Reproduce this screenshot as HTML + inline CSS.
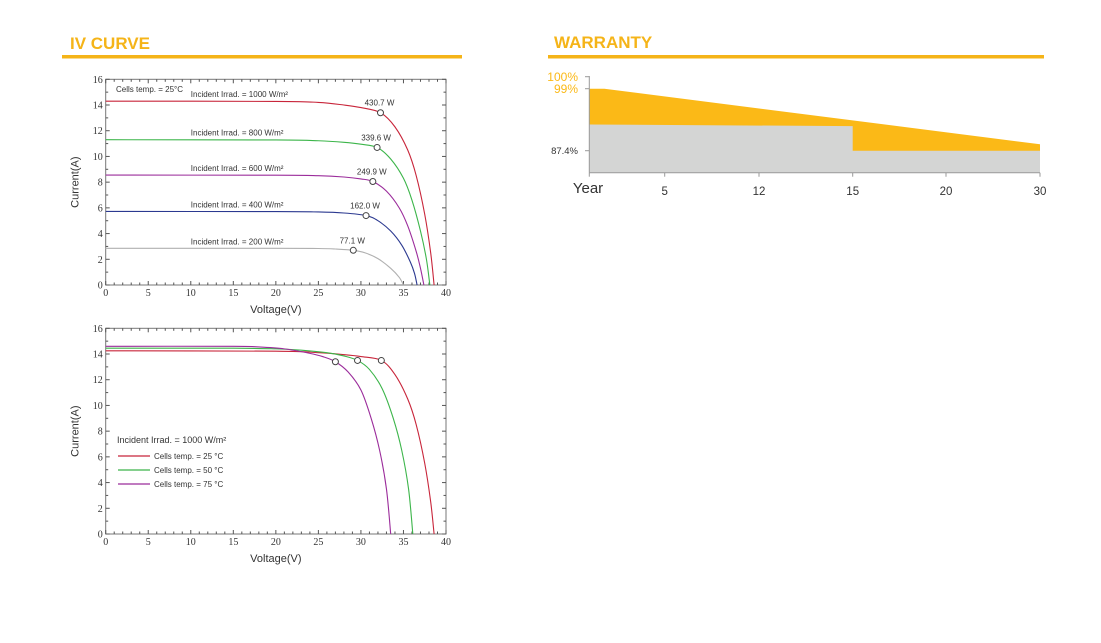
<!DOCTYPE html>
<html><head><meta charset="utf-8"><style>
html,body{margin:0;padding:0;background:#fff;}
body{width:1101px;height:643px;overflow:hidden;position:relative;font-family:"Liberation Sans",sans-serif;}
svg{position:absolute;left:0;top:0;}
</style></head><body>
<svg id="s" width="1101" height="643" viewBox="0 0 1101 643">
<text x="70" y="49" font-size="17" font-weight="bold" fill="#f5b418">IV CURVE</text>
<rect x="62" y="55" width="400" height="3.5" fill="#f5b418"/>
<text x="554" y="48" font-size="17" font-weight="bold" fill="#f5b418">WARRANTY</text>
<rect x="548" y="55" width="496" height="3.5" fill="#f5b418"/>
</svg>
<script>
// ---- IV chart 1 data (irradiance) ----
const irrLabels=["Incident Irrad. = 1000 W/m²","Incident Irrad. = 800 W/m²","Incident Irrad. = 600 W/m²","Incident Irrad. = 400 W/m²","Incident Irrad. = 200 W/m²"];
const irrPower=["430.7 W","339.6 W","249.9 W","162.0 W","77.1 W"];
const irrV1000=[0,20,25,28,30,32.3,34,35.5,36.5,37.5,38.2,38.6];
const irrI1000=[14.3,14.28,14.2,14.0,13.8,13.4,12.3,10.5,8.5,5.5,2.5,0];
const irrV800=[0,20,25,28,30,31.9,33.5,35,36,37,37.7,38.1];
const irrI800=[11.3,11.28,11.22,11.1,10.95,10.7,9.8,8.3,6.6,4.2,2.0,0];
const irrV600=[0,20,25,28,30,31.4,33,34.5,35.5,36.5,37.0,37.4];
const irrI600=[8.55,8.54,8.5,8.4,8.25,8.05,7.3,6.0,4.6,2.6,1.3,0];
const irrV400=[0,20,25,28,30.6,32,33.5,34.8,35.8,36.3,36.6];
const irrI400=[5.72,5.71,5.68,5.6,5.4,5.0,4.2,3.1,1.8,0.9,0];
const irrV200=[0,20,25,27,29.1,30.5,32,33.5,34.5,35];
const irrI200=[2.85,2.85,2.84,2.8,2.7,2.5,2.05,1.3,0.6,0];
const irrMppV=[32.3,31.9,31.4,30.6,29.1];
const irrMppI=[13.4,10.7,8.05,5.4,2.7];
// ---- IV chart 2 data (temperature) ----
const tempLabels=["Cells temp. = 25 °C","Cells temp. = 50 °C","Cells temp. = 75 °C"];
const tV25=[0,20,25,28,30,32.4,34,35.5,36.5,37.5,38.2,38.6];
const tI25=[14.25,14.22,14.1,13.95,13.8,13.5,12.4,10.5,8.5,5.5,2.5,0];
const tV50=[0,15,20,23,26,28,29.6,31,32.5,33.8,34.8,35.6,36.1];
const tI50=[14.45,14.45,14.4,14.3,14.1,13.85,13.5,12.8,11.3,9.0,6.5,3.5,0];
const tV75=[0,15,18,21,24,25.5,27,28.5,30,31.2,32.2,33,33.5];
const tI75=[14.6,14.6,14.55,14.4,14.05,13.8,13.4,12.6,11.2,9.0,6.5,3.5,0];
const tMppV=[32.4,29.6,27];
const tMppI=[13.5,13.5,13.4];
const xTicks=[0,5,10,15,20,25,30,35,40];
const yTicks=[0,2,4,6,8,10,12,14,16];
// ---- warranty data ----
const wYearTicks=["Year","5","12","15","20","30"];
const wYearVals=[0,5,12,15,20,30];
const wPctTicks=["100%","99%","87.4%"];
const wPctVals=[100,99,87.4];
const wTopYears=[0,1,30];
const wTopPct=[99,99,88.6];
const wBotYears=[0,15,15,30];
const wBotPct=[92.3,92.0,87.4,87.4];

const svg=document.getElementById('s');
const NS='http://www.w3.org/2000/svg';
function mk(tag,attrs,parent,text){const e=document.createElementNS(NS,tag);for(const k in attrs)e.setAttribute(k,attrs[k]);if(text!==undefined)e.textContent=text;(parent||svg).appendChild(e);return e;}
const cols1=["#c8253a","#3cb54a","#9b2c9b","#2b3990","#b0b0b0"];
const cols2=["#c8253a","#3cb54a","#9b2c9b"];

function axes(top,bot,name){
  const L=105.7,R=446;
  const sx=v=>L+(R-L)*v/40, sy=i=>bot-(bot-top)*i/16;
  const g=mk('g',{});
  
  
  const fr=mk('rect',{x:L,y:top,width:R-L,height:bot-top,fill:'none',stroke:'#777','stroke-width':1},g);
  
  for(let v=0;v<=40;v++){const len=v%5==0?4:2.5;
    mk('line',{x1:sx(v),x2:sx(v),y1:bot,y2:bot-len,stroke:'#555'},g);
    mk('line',{x1:sx(v),x2:sx(v),y1:top,y2:top+len,stroke:'#555'},g);}
  for(let i=0;i<=16;i++){const len=i%2==0?4:2.5;
    mk('line',{x1:L,x2:L+len,y1:sy(i),y2:sy(i),stroke:'#555'},g);
    mk('line',{x1:R,x2:R-len,y1:sy(i),y2:sy(i),stroke:'#555'},g);}
  xTicks.forEach(v=>{const t=mk('text',{x:sx(v),y:bot+11,'font-size':10,'text-anchor':'middle','font-family':'Liberation Serif',fill:'#333'},g,String(v));
    });
  yTicks.forEach(i=>{const t=mk('text',{x:L-3,y:sy(i)+3.5,'font-size':10,'text-anchor':'end','font-family':'Liberation Serif',fill:'#333'},g,String(i));
    });
  const xt=mk('text',{x:(L+R)/2,y:bot+28,'font-size':11,'text-anchor':'middle',fill:'#333'},g,'Voltage(V)');
  
  const yt=mk('text',{x:0,y:0,'font-size':11,'text-anchor':'middle',fill:'#333',transform:`translate(${L-27},${(top+bot)/2}) rotate(-90)`},g,'Current(A)');
  
  return {sx,sy,g};
}
function path(V,I,sx,sy){ // catmull-rom smooth
  const p=V.map((v,k)=>[sx(v),sy(I[k])]);let d=`M${p[0][0]},${p[0][1]}`;
  for(let k=0;k<p.length-1;k++){const p0=p[k-1]||p[k],p1=p[k],p2=p[k+1],p3=p[k+2]||p2;
    d+=` C${p1[0]+(p2[0]-p0[0])/6},${p1[1]+(p2[1]-p0[1])/6} ${p2[0]-(p3[0]-p1[0])/6},${p2[1]-(p3[1]-p1[1])/6} ${p2[0]},${p2[1]}`;}
  return d;
}
// chart 1
{const a=axes(79.3,285,'iv-irradiance-chart');
 const Vs=[irrV1000,irrV800,irrV600,irrV400,irrV200],Is=[irrI1000,irrI800,irrI600,irrI400,irrI200];
 Vs.forEach((V,k)=>{const ln=mk('path',{d:path(V,Is[k],a.sx,a.sy),fill:'none',stroke:cols1[k],'stroke-width':1.1},a.g);
   
   const lb=mk('text',{x:a.sx(10),y:a.sy(Is[k][0])-4,'font-size':8,fill:'#333'},a.g,irrLabels[k]);
   
   const c=mk('circle',{cx:a.sx(irrMppV[k]),cy:a.sy(irrMppI[k]),r:3,fill:'#fff',stroke:'#444','stroke-width':1},a.g);
   
   const pw=mk('text',{x:a.sx(irrMppV[k])-1,y:a.sy(irrMppI[k])-7,'font-size':8,'text-anchor':'middle',fill:'#333'},a.g,irrPower[k]);
   });
 const ct=mk('text',{x:116,y:92,'font-size':8,fill:'#333'},a.g,'Cells temp. = 25°C');
 }
// chart 2
{const a=axes(328.3,534,'iv-temperature-chart');
 const Vs=[tV25,tV50,tV75],Is=[tI25,tI50,tI75];
 Vs.forEach((V,k)=>{const ln=mk('path',{d:path(V,Is[k],a.sx,a.sy),fill:'none',stroke:cols2[k],'stroke-width':1.1},a.g);
   
   const c=mk('circle',{cx:a.sx(tMppV[k]),cy:a.sy(tMppI[k]),r:3,fill:'#fff',stroke:'#444','stroke-width':1},a.g);
   
   const ly=456+k*14;
   const ll=mk('line',{x1:118,x2:150,y1:ly,y2:ly,stroke:cols2[k],'stroke-width':1.2},a.g);
   
   const lt=mk('text',{x:154,y:ly+3,'font-size':8,fill:'#333'},a.g,tempLabels[k]);
   });
 const it=mk('text',{x:117,y:443,'font-size':9,fill:'#333'},a.g,'Incident Irrad. = 1000 W/m²');
 }
// warranty
{const xPos=[589.3,664.7,759,852.7,946,1040], yPx=[76.7,88.7,150.7];
 const axisBot=172.7;
 function wx(y){for(let k=0;k<wYearVals.length-1;k++){if(y<=wYearVals[k+1])return xPos[k]+(xPos[k+1]-xPos[k])*(y-wYearVals[k])/(wYearVals[k+1]-wYearVals[k]);}return xPos[xPos.length-1];}
 function wy(p){if(p>=99)return yPx[1]-(yPx[1]-yPx[0])*(p-99);return yPx[1]+(yPx[2]-yPx[1])*(99-p)/(99-87.4);}
 const g=mk('g',{});
 let d=`M${wx(wTopYears[0])},${axisBot}`;wTopYears.forEach((y,k)=>d+=` L${wx(y)},${wy(wTopPct[k])}`);d+=` L${wx(30)},${axisBot}Z`;
 const top=mk('path',{d,fill:'#fbb917'},g);
 let d2=`M${wx(wBotYears[0])},${axisBot}`;wBotYears.forEach((y,k)=>d2+=` L${wx(y)},${wy(wBotPct[k])}`);d2+=` L${wx(30)},${axisBot}Z`;
 const bt=mk('path',{d:d2,fill:'#d4d5d4'},g);
 mk('line',{x1:589.3,x2:589.3,y1:76,y2:axisBot,stroke:'#999'},g);
 mk('line',{x1:589.3,x2:1040,y1:axisBot,y2:axisBot,stroke:'#999'},g);
 wPctVals.forEach((p,k)=>{mk('line',{x1:585,x2:589.3,y1:wy(p),y2:wy(p),stroke:'#999'},g);
   const t=mk('text',{x:578,y:wy(p)+(k==2?3.5:4.5),'font-size':k==2?9.5:12,'text-anchor':'end',fill:k==2?'#333':'#fbb917'},g,wPctTicks[k]);
   });
 wYearVals.forEach((y,k)=>{mk('line',{x1:wx(y),x2:wx(y),y1:axisBot,y2:axisBot+4,stroke:'#999'},g);
   const t=mk('text',{x:k==0?588:wx(y),y:k==0?193:195,'font-size':k==0?15:11.5,'text-anchor':'middle',fill:'#333'},g,wYearTicks[k]);
   });
}
</script>
</body></html>
